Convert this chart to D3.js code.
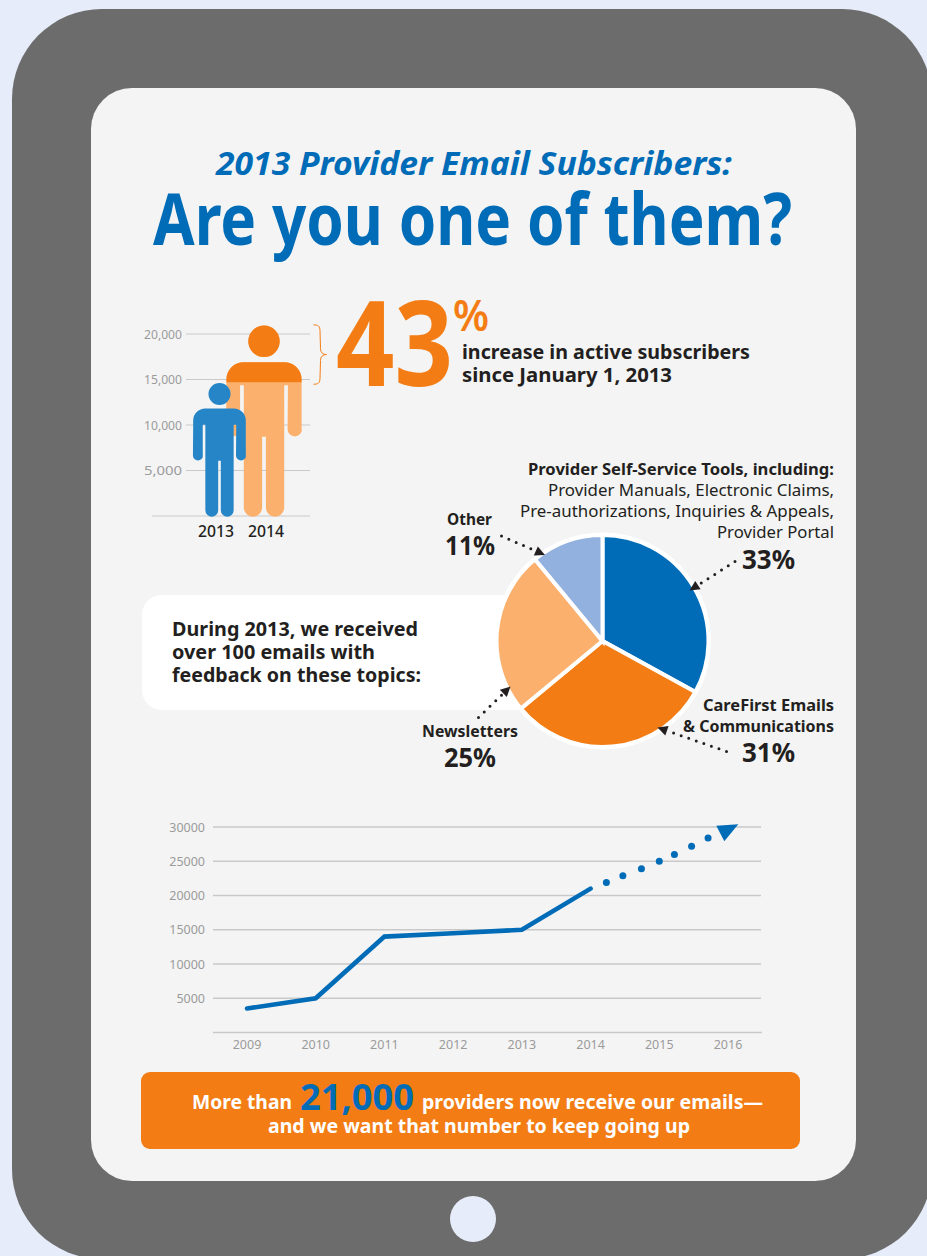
<!DOCTYPE html>
<html>
<head>
<meta charset="utf-8">
<title>2013 Provider Email Subscribers</title>
<script src="https://cdn.jsdelivr.net/npm/d3@7"></script>
<style>
  html, body { margin: 0; padding: 0; background: #e6ecf9; }
  svg { display: block; }
  text { font-family: "Noto Sans", "Open Sans", sans-serif; }
</style>
</head>
<body>
<svg id="chart" width="927" height="1256"></svg>
<script>
// Subscriber counts shown by the two figures
const personYears = ["2013", "2014"];
const personValues = [14700, 21000];
const personTicks = [5000, 10000, 15000, 20000];

// Email feedback topics
const topicNames = ["Provider Self-Service Tools", "CareFirst Emails & Communications", "Newsletters", "Other"];
const topicShares = [33, 31, 25, 11];
const topicColors = ["#006cb7", "#f37d14", "#fbb06e", "#93b1de"];

// Subscriber trend, actual and projected
const trendYears = [2009, 2010, 2011, 2012, 2013, 2014];
const trendValues = [3500, 5000, 14000, 14500, 15000, 21000];
const projectionYears = [2014.23, 2014.47, 2014.74, 2015.0, 2015.22, 2015.47, 2015.71];
const projectionValues = [21900, 22900, 23900, 25000, 26000, 27200, 28400];
const arrowTip = [2016.15, 30400];
const trendTicks = [5000, 10000, 15000, 20000, 25000, 30000];
const trendLabels = [2009, 2010, 2011, 2012, 2013, 2014, 2015, 2016];

const BLUE = "#006cb7", ORANGE = "#f37d14", LIGHT_ORANGE = "#fbb06e", PERSON_BLUE = "#2585c7";
const INK = "#231f20", GREY = "#9b9b9b", RULE = "#c9c9c9";

const svg = d3.select("#chart");

// Places a line of text and fits it to a measured run width
function label(g, str, x, y, o = {}) {
  const t = g.append("text")
    .attr("x", x).attr("y", y)
    .attr("font-size", o.size || 16)
    .attr("font-weight", o.weight || 400)
    .attr("font-style", o.italic ? "italic" : null)
    .attr("text-anchor", o.anchor || "start")
    .attr("fill", o.fill || INK)
    .text(str);
  if (o.width) t.attr("textLength", o.width).attr("lengthAdjust", "spacingAndGlyphs");
  return t;
}

// Device frame
svg.append("rect").attr("x", 12).attr("y", 9).attr("width", 920).attr("height", 1250).attr("rx", 90).attr("fill", "#6b6c6b");
svg.append("rect").attr("x", 91).attr("y", 88).attr("width", 765).attr("height", 1093).attr("rx", 41).attr("fill", "#f4f4f4");
svg.append("circle").attr("cx", 473).attr("cy", 1219).attr("r", 23).attr("fill", "#e6ecf9");

// Heading
label(svg, "2013 Provider Email Subscribers:", 216, 175, { size: 33, weight: 700, italic: true, fill: BLUE, width: 516 });
label(svg, "Are you one of them?", 153, 245, { size: 71, weight: 700, fill: BLUE, width: 639 });

// ---- Figures chart ----
const py = d3.scaleLinear().domain([0, 20000]).range([516, 334]);
const px = d3.scalePoint().domain(personYears).range([219.5, 264]);
const pxLabel = d3.scalePoint().domain(personYears).range([216, 266]);
const people = svg.append("g");

people.selectAll("line.grid").data(personTicks).join("line")
  .attr("x1", 186).attr("x2", 310)
  .attr("y1", d => py(d)).attr("y2", d => py(d))
  .attr("stroke", RULE).attr("stroke-width", 1.2);
people.append("line").attr("x1", 152).attr("x2", 310).attr("y1", py(0)).attr("y2", py(0))
  .attr("stroke", RULE).attr("stroke-width", 1.2);
people.selectAll("text.tick").data(personTicks).join("text")
  .attr("x", 182).attr("y", d => py(d) + 4.5)
  .attr("text-anchor", "end").attr("font-size", 12.5).attr("fill", GREY)
  .text(d3.format(",")).attr("textLength", 38).attr("lengthAdjust", "spacingAndGlyphs");

// Silhouette drawn on a unit-height box, feet at y = 0, head at y = -1
function silhouette() {
  const p = d3.path();
  const w = 0.1967, arm = 0.0715, tors = 0.1058, gap = 0.0097;
  const shoulderTop = -0.8085, shoulderR = 0.09;
  const armBottom = -0.4185, crotch = -0.4185, armGapTop = -0.6875;
  const legR = 0.048;
  p.moveTo(-w, -0.70);
  p.arcTo(-w, shoulderTop, -w + shoulderR, shoulderTop, shoulderR);
  p.lineTo(w - shoulderR, shoulderTop);
  p.arcTo(w, shoulderTop, w, -0.70, shoulderR);
  p.lineTo(w, armBottom - arm * 0.55);
  p.arc(w - arm / 2 * 1.0, armBottom - arm * 0.55, arm / 2 * 1.05, 0, Math.PI);
  p.lineTo(w - arm, armGapTop);
  p.lineTo(tors, armGapTop);
  p.lineTo(tors, -legR);
  p.arc(tors - legR, -legR, legR, 0, Math.PI);
  p.lineTo(gap, crotch);
  p.lineTo(-gap, crotch);
  p.lineTo(-gap, -legR);
  p.arc(-tors + legR, -legR, legR, 0, Math.PI);
  p.lineTo(-tors, armGapTop);
  p.lineTo(-w + arm, armGapTop);
  p.lineTo(-w + arm, armBottom - arm * 0.55);
  p.arc(-w + arm / 2, armBottom - arm * 0.55, arm / 2 * 1.05, 0, Math.PI);
  p.closePath();
  p.moveTo(0.0823, -0.9177);
  p.arc(0, -0.9177, 0.0823, 0, Math.PI * 2);
  return p.toString();
}
const bodyShape = silhouette();
const personHeight = v => py(0) - py(v);

// Upper part of the 2014 figure marks the gain since 2013
svg.append("clipPath").attr("id", "gainClip").append("rect")
  .attr("x", 200).attr("width", 120)
  .attr("y", py(personValues[1]) - 5)
  .attr("height", py(personValues[0]) - py(personValues[1]) + 5);

const figure2014 = people.append("g")
  .attr("transform", `translate(${px("2014")},${py(0) + 0.7}) scale(${personHeight(personValues[1])})`);
figure2014.append("path").attr("d", bodyShape).attr("fill", LIGHT_ORANGE);
people.append("g").attr("clip-path", "url(#gainClip)")
  .append("path").attr("d", bodyShape).attr("fill", ORANGE)
  .attr("transform", `translate(${px("2014")},${py(0) + 0.7}) scale(${personHeight(personValues[1])})`);
people.append("path").attr("d", bodyShape).attr("fill", PERSON_BLUE)
  .attr("transform", `translate(${px("2013")},${py(0) + 0.7}) scale(${personHeight(personValues[0])})`);

people.selectAll("text.year").data(personYears).join("text")
  .attr("x", d => pxLabel(d)).attr("y", 537)
  .attr("text-anchor", "middle").attr("font-size", 16).attr("font-weight", 500).attr("fill", INK)
  .text(d => d).attr("textLength", 36).attr("lengthAdjust", "spacingAndGlyphs");

// Brace spanning the gain
const brT = py(personValues[1]), brB = py(personValues[0]) + 2;
const brM = (brT + brB) / 2;
svg.append("path")
  .attr("d", `M313.5,${brT} C318,${brT} 320,${brT + 1} 320,${brT + 6} L320.5,${brM - 6} C320.5,${brM - 2} 323,${brM} 326.5,${brM} C323,${brM} 320.5,${brM + 2} 320.5,${brM + 6} L320,${brB - 6} C320,${brB - 1} 318,${brB} 313.5,${brB}`)
  .attr("fill", "none").attr("stroke", ORANGE).attr("stroke-width", 1);

// Headline figure
label(svg, "43", 336, 386, { size: 118, weight: 700, fill: ORANGE, width: 117 });
label(svg, "%", 453, 331, { size: 44, weight: 600, fill: ORANGE, width: 36 });
label(svg, "increase in active subscribers", 462, 359, { size: 19.5, weight: 700, width: 288 });
label(svg, "since January 1, 2013", 462, 382, { size: 19.5, weight: 700, width: 210 });

// ---- Feedback pie ----
const cx = 602.5, cy = 641, outer = 104;
svg.append("path")
  .attr("d", d3.path ? `M500,595 H162 A20,20 0 0 0 142,615 V690 A20,20 0 0 0 162,710 H540 V595 Z` : "")
  .attr("fill", "#fff");
svg.append("circle").attr("cx", cx).attr("cy", cy).attr("r", outer + 4.5).attr("fill", "#fff");

const pie = d3.pie().sort(null).value(d => d)(topicShares);
const arc = d3.arc().innerRadius(0).outerRadius(outer + 2);
svg.append("g").attr("transform", `translate(${cx},${cy})`)
  .selectAll("path").data(pie).join("path")
  .attr("d", arc)
  .attr("fill", (d, i) => topicColors[i])
  .attr("stroke", "#fff").attr("stroke-width", 4).attr("stroke-linejoin", "miter");

label(svg, "During 2013, we received", 172, 636, { size: 20, weight: 700, width: 246 });
label(svg, "over 100 emails with", 172, 659, { size: 20, weight: 700, width: 203 });
label(svg, "feedback on these topics:", 172, 682, { size: 20, weight: 700, width: 249 });

label(svg, "Provider Self-Service Tools, including:", 528, 475, { size: 16, weight: 700, width: 306 });
label(svg, "Provider Manuals, Electronic Claims,", 548, 496, { size: 16, width: 286 });
label(svg, "Pre-authorizations, Inquiries & Appeals,", 520, 517, { size: 16, width: 314 });
label(svg, "Provider Portal", 717, 538, { size: 16, width: 117 });
label(svg, topicShares[0] + "%", 742, 568.5, { size: 26, weight: 700, width: 53 });

label(svg, "CareFirst Emails", 703, 711, { size: 16, weight: 700, width: 131 });
label(svg, "& Communications", 683, 732, { size: 16, weight: 700, width: 151 });
label(svg, topicShares[1] + "%", 742, 761.5, { size: 26, weight: 700, width: 53 });

label(svg, "Newsletters", 422, 737, { size: 16, weight: 700, width: 96 });
label(svg, topicShares[2] + "%", 444, 767, { size: 26, weight: 700, width: 52 });

label(svg, "Other", 447, 525, { size: 16, weight: 700, width: 45 });
label(svg, topicShares[3] + "%", 445, 555, { size: 26, weight: 700, width: 50 });

// Dotted leaders with arrowheads, one per topic
const leaderFrom = [[735, 561.5], [726.5, 751.5], [478.5, 717.5], [501.5, 536]];
const leaderTo = [[689.5, 590.5], [657.5, 727.5], [510.5, 686.5], [545, 555]];
const leaders = svg.append("g");
leaderFrom.forEach((a, i) => {
  const b = leaderTo[i];
  const ang = Math.atan2(b[1] - a[1], b[0] - a[0]);
  const len = 10;
  leaders.append("line")
    .attr("x1", a[0]).attr("y1", a[1])
    .attr("x2", b[0] - Math.cos(ang) * len).attr("y2", b[1] - Math.sin(ang) * len)
    .attr("stroke", INK).attr("stroke-width", 3).attr("stroke-linecap", "round")
    .attr("stroke-dasharray", "0 8");
  leaders.append("path")
    .attr("d", "M0,0 L-10,-5 L-10,5 Z")
    .attr("fill", INK)
    .attr("transform", `translate(${b[0]},${b[1]}) rotate(${ang * 180 / Math.PI})`);
});

// ---- Trend chart ----
const tx = d3.scaleLinear().domain([2009, 2016]).range([247, 728]);
const ty = d3.scaleLinear().domain([0, 30000]).range([1032.5, 827]);
const trend = svg.append("g");

trend.selectAll("line.grid").data(trendTicks).join("line")
  .attr("x1", 213).attr("x2", 761)
  .attr("y1", d => ty(d)).attr("y2", d => ty(d))
  .attr("stroke", RULE).attr("stroke-width", 1.3);
trend.append("line").attr("x1", 213).attr("x2", 762).attr("y1", ty(0)).attr("y2", ty(0))
  .attr("stroke", RULE).attr("stroke-width", 1.3);
trend.selectAll("text.ytick").data(trendTicks).join("text")
  .attr("x", 205).attr("y", d => ty(d) + 4.5)
  .attr("text-anchor", "end").attr("font-size", 12.5).attr("fill", GREY)
  .text(d => d);
trend.selectAll("text.xtick").data(trendLabels).join("text")
  .attr("x", d => tx(d)).attr("y", 1049)
  .attr("text-anchor", "middle").attr("font-size", 12.5).attr("fill", GREY)
  .text(d => d);

const lineGen = d3.line().x((d, i) => tx(trendYears[i])).y(d => ty(d));
trend.append("path").datum(trendValues)
  .attr("d", lineGen)
  .attr("fill", "none").attr("stroke", BLUE).attr("stroke-width", 4.6)
  .attr("stroke-linecap", "round").attr("stroke-linejoin", "miter");

trend.selectAll("circle.proj").data(projectionValues).join("circle")
  .attr("cx", (d, i) => tx(projectionYears[i])).attr("cy", d => ty(d))
  .attr("r", 3.5).attr("fill", BLUE);

trend.append("path")
  .attr("d", "M0,0 L-22,1.5 L-14,17 Z")
  .attr("fill", BLUE)
  .attr("transform", `translate(${tx(arrowTip[0])},${ty(arrowTip[1])})`);

// ---- Banner ----
svg.append("rect").attr("x", 141).attr("y", 1072).attr("width", 659).attr("height", 77).attr("rx", 9).attr("fill", ORANGE);
label(svg, "More than", 192, 1109, { size: 20, weight: 700, fill: "#fff", width: 100 });
label(svg, "21,000", 300, 1110, { size: 36, weight: 700, fill: BLUE, width: 114 });
label(svg, "providers now receive our emails—", 422, 1109, { size: 20, weight: 700, fill: "#fff", width: 341 });
label(svg, "and we want that number to keep going up", 268, 1133, { size: 20, weight: 700, fill: "#fff", width: 422 });
</script>
</body>
</html>
